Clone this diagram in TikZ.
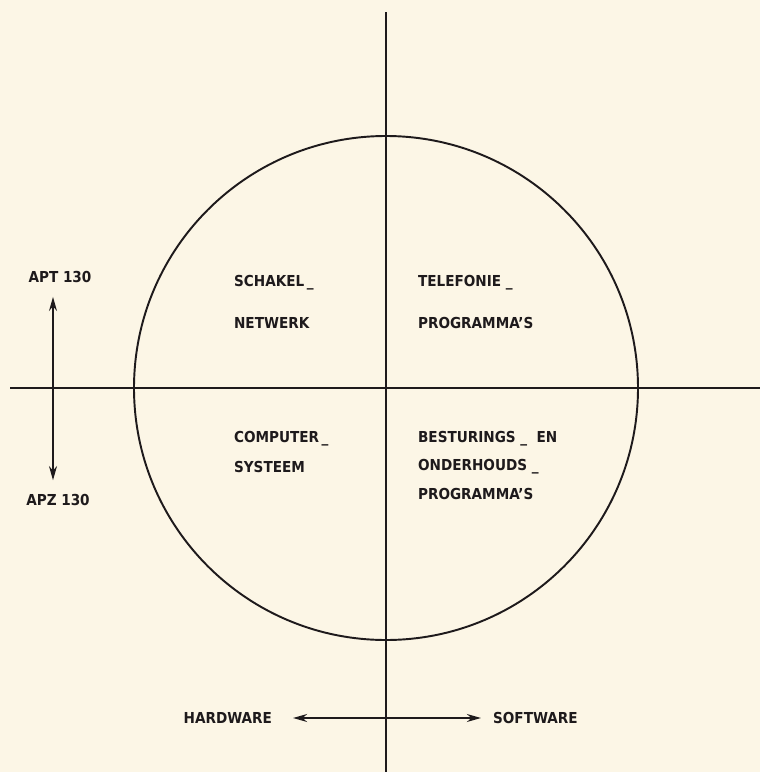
\documentclass[tikz,border=0pt]{standalone}
\usepackage{fontspec}
\setmainfont{DejaVu Sans Condensed}
\usepackage{tikz}
\usetikzlibrary{positioning,arrows.meta,calc}
\usepackage{xcolor}
\definecolor{paper}{HTML}{FCF6E6}
\definecolor{ink}{HTML}{1E1A1C}

\begin{document}
\begin{tikzpicture}[
    x=0.02cm, y=-0.02cm,
    axis/.style={draw=ink, line width=1.1pt},
    label/.style={font=\fontsize{8.6}{10}\selectfont\bfseries, text=ink, inner sep=1pt},
    quad/.style={label, anchor=west, align=left},
    dirarrow/.style={draw=ink, line width=1.2pt, {Stealth[length=8pt,width=4.5pt]}-{Stealth[length=8pt,width=4.5pt]}}
]
    % Paper background fixes the margins
    \fill[paper] (0,0) rectangle (760,772);
    \useasboundingbox (0,0) rectangle (760,772);

    % Axes and circle
    \coordinate (origin) at (386,388);
    \coordinate (vtop) at (386,12);
    \coordinate (vbot) at (386,772);
    \coordinate (hleft) at (10,388);
    \coordinate (hright) at (760,388);
    \draw[axis] (vtop) -- (vbot);
    \draw[axis] (hleft) -- (hright);
    \draw[axis] (origin) circle (252);

    % Quadrant texts
    \node[quad] (schakel) at (232,283) {SCHAKEL\,\_};
    \node[quad] (netwerk) at (232,323) {NETWERK};
    \node[quad] (telefonie) at (416,283) {TELEFONIE \_};
    \node[quad] (progA) at (416,323) {PROGRAMMA'S};
    \node[quad] (computer) at (232,439) {COMPUTER\,\_};
    \node[quad] (systeem) at (232,467) {SYSTEEM};
    \node[quad] (besturing) at (416,439) {BESTURINGS \_ \ EN};
    \node[quad] (onderhoud) at (416,467) {ONDERHOUDS \_};
    \node[quad] (progB) at (416,494) {PROGRAMMA'S};

    % Left scale: APT / APZ
    \node[label] (apt) at (60,277) {APT 130};
    \node[label] (apz) at (58,500) {APZ 130};
    \draw[dirarrow] ($(apt.south)+(-7,12)$) -- ($(apz.north)+(-5,-12)$);

    % Bottom scale: hardware / software
    \node[label, anchor=east] (hardware) at (274,718) {HARDWARE};
    \node[label, anchor=west] (software) at (491,718) {SOFTWARE};
    \draw[dirarrow] ($(hardware.east)+(19,0)$) -- ($(software.west)+(-10,0)$);
\end{tikzpicture}
\end{document}
